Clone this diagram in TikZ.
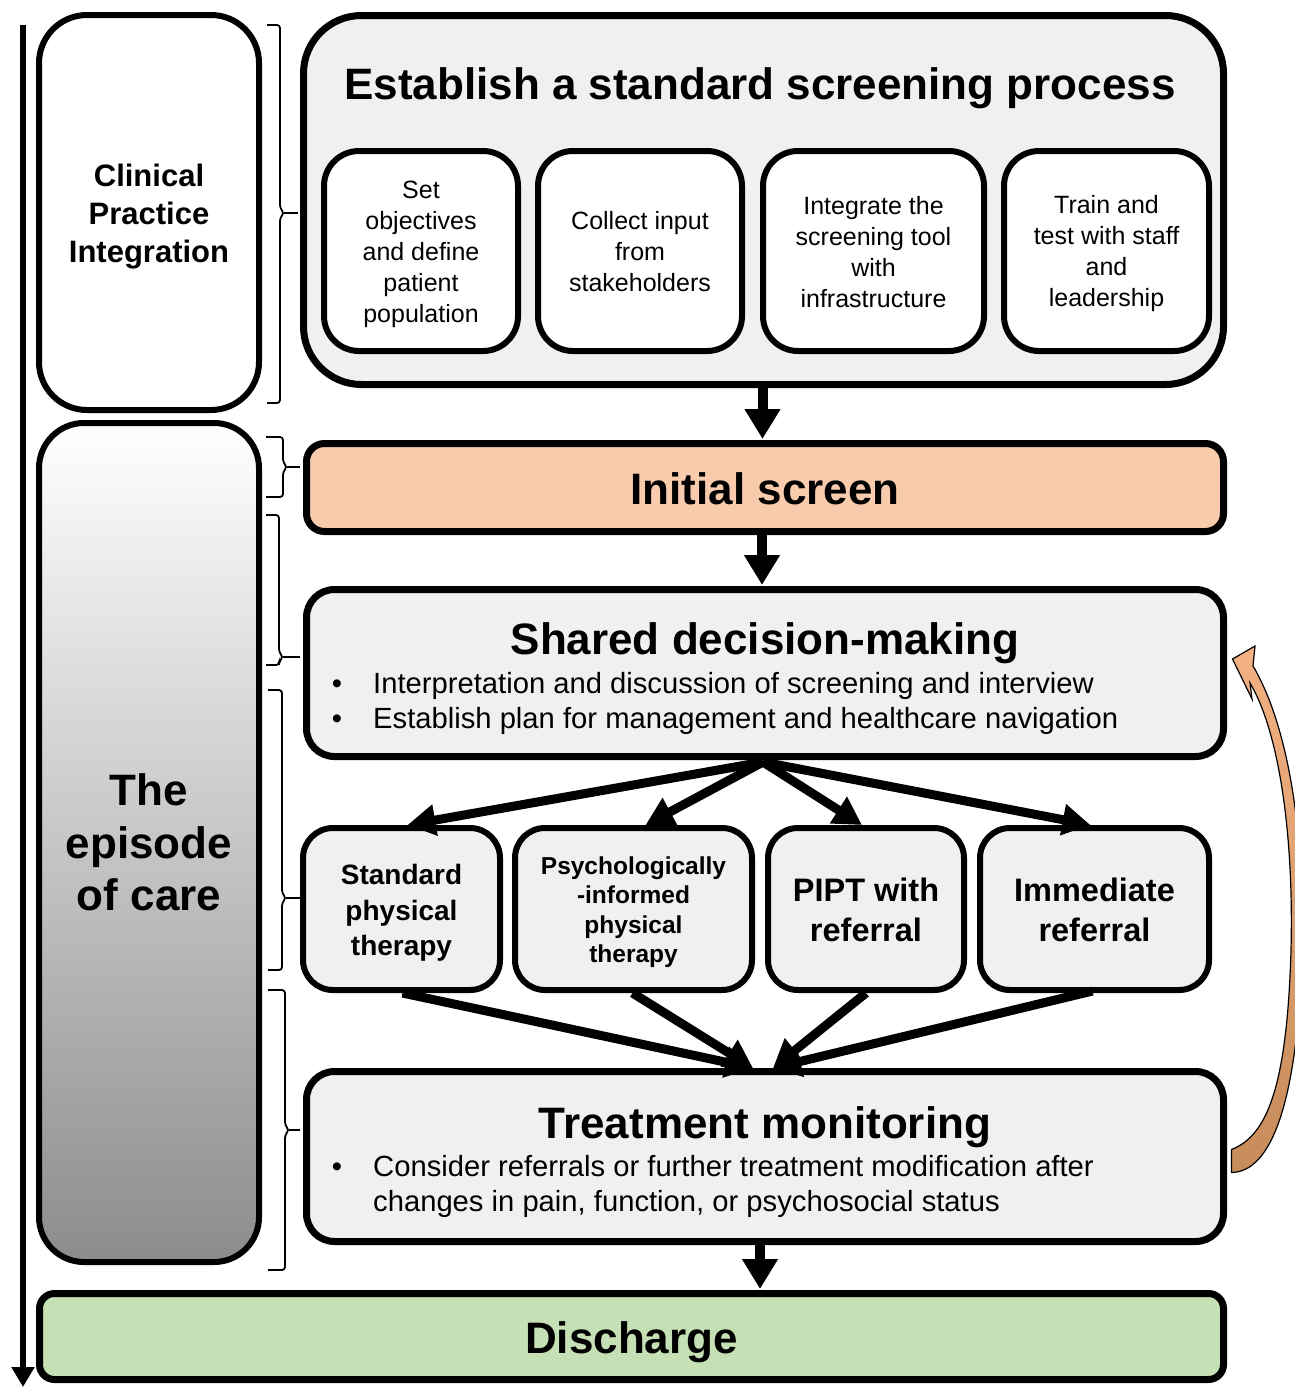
\documentclass[tikz,border=0pt]{standalone}
\usepackage{fontspec}
\setmainfont{Liberation Sans}
\usetikzlibrary{arrows.meta,calc}
\definecolor{boxgray}{HTML}{F0F0F0}
\definecolor{peach}{HTML}{F8CBAD}
\definecolor{lgreen}{HTML}{C5E0B4}
\definecolor{orng}{HTML}{F4B183}
\definecolor{orngdark}{HTML}{C68C5A}
\newcommand\myfs[2]{\fontsize{#1}{#2}\selectfont}
\newcommand\mybrace[6]{%
  \draw[brk] (#1,#3) -- (#2,#3) -- (#2,#4-5) -- (#2+4,#4) -- (#2,#4+5) -- (#2,#5) -- (#1,#5);
  \draw[brk] (#2+4,#4) -- (#6,#4);}
\begin{document}
\begin{tikzpicture}[x=1pt,y=-1pt,
  rbox/.style={draw=black, line width=6pt, rounded corners=#1, inner sep=0pt, align=center},
  rbox/.default=30pt,
  lbl/.style={inner sep=0pt, align=center},
  bigarrow/.style={line width=10pt, -{Triangle[length=30pt,width=34pt]}},
  fanarrow/.style={line width=9pt, -{Triangle[length=28pt,width=30pt]}},
  brk/.style={line width=1.8pt, rounded corners=3pt},
  title/.style={font=\myfs{44}{50}\bfseries, anchor=base, inner sep=0pt},
  bul/.style={font=\myfs{29.2}{35}, anchor=base west, inner sep=0pt},
  buldot/.style={font=\myfs{29.2}{35}, anchor=base, inner sep=0pt}]
\useasboundingbox (0,0) rectangle (1294,1387);
\fill[white] (0,0) rectangle (1294,1387);

% timeline arrow
\coordinate (tl0) at (23,25);
\coordinate (tl1) at (23,1387);
\draw[line width=5.5pt, -{Triangle[length=20pt,width=22pt]}] (tl0) -- (tl1);

% left boxes
\node[rbox=48pt, fill=white, minimum width=220pt, minimum height=395pt] (cpi) at (149,212.5) {};
\node[lbl, font=\myfs{31}{38}\bfseries] (cpit) at (149,217) {Clinical\\Practice\\Integration};
\node[rbox=45pt, top color=white, bottom color=black!45, minimum width=220pt, minimum height=839pt,
      font=\myfs{44}{52.5}\bfseries] (ep) at (149,842.5) {The\\episode\\of care};

% brackets
\mybrace{267}{280}{25}{213}{403}{298}
\mybrace{266}{283}{437}{467}{497}{300}
\mybrace{266}{279}{515}{657}{665}{300}
\mybrace{268}{282}{690}{898}{970}{300}
\mybrace{268}{285}{990}{1130}{1270}{300}

% establish box
\node[rbox=58pt, line width=7pt, fill=boxgray, minimum width=920pt, minimum height=369pt] (esp) at (763.5,200) {};
\node[title] (espt) at (760,99) {Establish a standard screening process};
\node[rbox=35pt, fill=white, minimum width=194pt, minimum height=200pt] (s1) at (421,251) {};
\node[lbl, font=\myfs{25}{31}] (s1t) at (421,254) {Set\\objectives\\and define\\patient\\population};
\node[rbox=35pt, fill=white, minimum width=204pt, minimum height=200pt] (s2) at (640,251) {};
\node[lbl, font=\myfs{25}{31}] (s2t) at (640,252) {Collect input\\from\\stakeholders};
\node[rbox=35pt, fill=white, minimum width=221pt, minimum height=200pt] (s3) at (873.5,251) {};
\node[lbl, font=\myfs{25}{31}] (s3t) at (873.5,252) {Integrate the\\screening tool\\with\\infrastructure};
\node[rbox=35pt, fill=white, minimum width=205pt, minimum height=200pt] (s4) at (1106.5,251) {};
\node[lbl, font=\myfs{25}{31}] (s4t) at (1106.5,254) {Train and\\test with staff\\and\\leadership};

% initial screen
\node[rbox=18pt, line width=7pt, fill=peach, minimum width=917pt, minimum height=88pt] (init) at (765,487.5) {};
\node[title] (initt) at (765,504) {Initial screen};

% shared decision-making
\node[rbox=28pt, line width=7pt, fill=boxgray, minimum width=917pt, minimum height=167pt] (sdm) at (765,673) {};
\node[title] (sdmt) at (765,654) {Shared decision-making};
\node[buldot] (sdmd1) at (337,693) {•};
\node[bul] (sdmb1) at (373,693) {Interpretation and discussion of screening and interview};
\node[buldot] (sdmd2) at (337,728) {•};
\node[bul] (sdmb2) at (373,728) {Establish plan for management and healthcare navigation};

% therapy boxes
\node[rbox=30pt, fill=boxgray, minimum width=197pt, minimum height=162pt] (spt) at (401.5,909) {};
\node[lbl, font=\myfs{28}{35.5}\bfseries] (sptt) at (401.5,913) {Standard\\physical\\therapy};
\node[rbox=30pt, fill=boxgray, minimum width=237pt, minimum height=162pt] (pipt1) at (633.5,909) {};
\node[lbl, font=\myfs{24.5}{29.5}\bfseries] (pipt1t) at (633.5,912) {Psychologically\\-informed\\physical\\therapy};
\node[rbox=30pt, fill=boxgray, minimum width=196pt, minimum height=162pt] (pipt) at (866,909) {};
\node[lbl, font=\myfs{32.5}{40}\bfseries] (piptt) at (866,910) {PIPT with\\referral};
\node[rbox=30pt, fill=boxgray, minimum width=229pt, minimum height=162pt] (imm) at (1094.5,909) {};
\node[lbl, font=\myfs{32.5}{40}\bfseries] (immt) at (1094.5,910) {Immediate\\referral};

% treatment monitoring
\node[rbox=28pt, line width=7pt, fill=boxgray, minimum width=917pt, minimum height=170pt] (tm) at (765,1156.5) {};
\node[title] (tmt) at (765,1138) {Treatment monitoring};
\node[buldot] (tmd1) at (337,1176) {•};
\node[bul] (tmb1) at (373,1176) {Consider referrals or further treatment modification after};
\node[bul] (tmb2) at (373,1211) {changes in pain, function, or psychosocial status};

% discharge
\node[rbox=15pt, line width=7pt, fill=lgreen, minimum width=1184pt, minimum height=86pt] (dis) at (631.5,1336.5) {};
\node[title] (dist) at (631.5,1353) {Discharge};

% vertical arrows
\draw[bigarrow] ($(esp.south)+(-1,0)$) -- ($(esp.south |- init.north)+(-1,-1)$);
\draw[bigarrow] ($(init.south)+(-3,0)$) -- ($(init.south |- sdm.north)+(-3,-1)$);
\draw[bigarrow] ($(tm.south)+(-5,0)$) -- ($(tm.south |- dis.north)+(-5,-1)$);

% fan out
\draw[fanarrow] ($(sdm.south)+(-2,2)$) -- ($(spt.north)+(6,0)$);
\draw[fanarrow] ($(sdm.south)+(-2,2)$) -- ($(pipt1.north)+(12,0)$);
\draw[fanarrow] ($(sdm.south)+(-2,2)$) -- ($(pipt.north)+(-4,0)$);
\draw[fanarrow] ($(sdm.south)+(-2,2)$) -- ($(imm.north)+(-4,0)$);

% converge
\draw[fanarrow] ($(spt.south)+(1,0)$) -- ($(tm.north)+(-12,0)$);
\draw[fanarrow] ($(pipt1.south)+(-1,0)$) -- ($(tm.north)+(-12,0)$);
\draw[fanarrow] ($(pipt.south)+(0,0)$) -- ($(tm.north)+(8,0)$);
\draw[fanarrow] ($(imm.south)+(-2,-2)$) -- ($(tm.north)+(8,0)$);

% curved feedback arrow
\coordinate (fbs) at ($(tm.east)+(4.5,4)$);
\coordinate (fbt) at ($(sdm.east)+(5.5,-14)$);
\path[draw=black, line width=1.2pt, line join=miter, top color=orng, bottom color=orngdark]
  (fbt) -- (1255,646) -- (1253,666)
  .. controls (1285,720) and (1305,820) .. (1302,950)
  .. controls (1298,1100) and (1272,1172) .. ($(fbs)+(0,12)$)
  -- ($(fbs)+(0,-11)$)
  .. controls (1266,1136) and (1287,1090) .. (1291,950)
  .. controls (1294,830) and (1278,730) .. (1250,683)
  -- (1252,699) -- cycle;
\end{tikzpicture}
\end{document}
